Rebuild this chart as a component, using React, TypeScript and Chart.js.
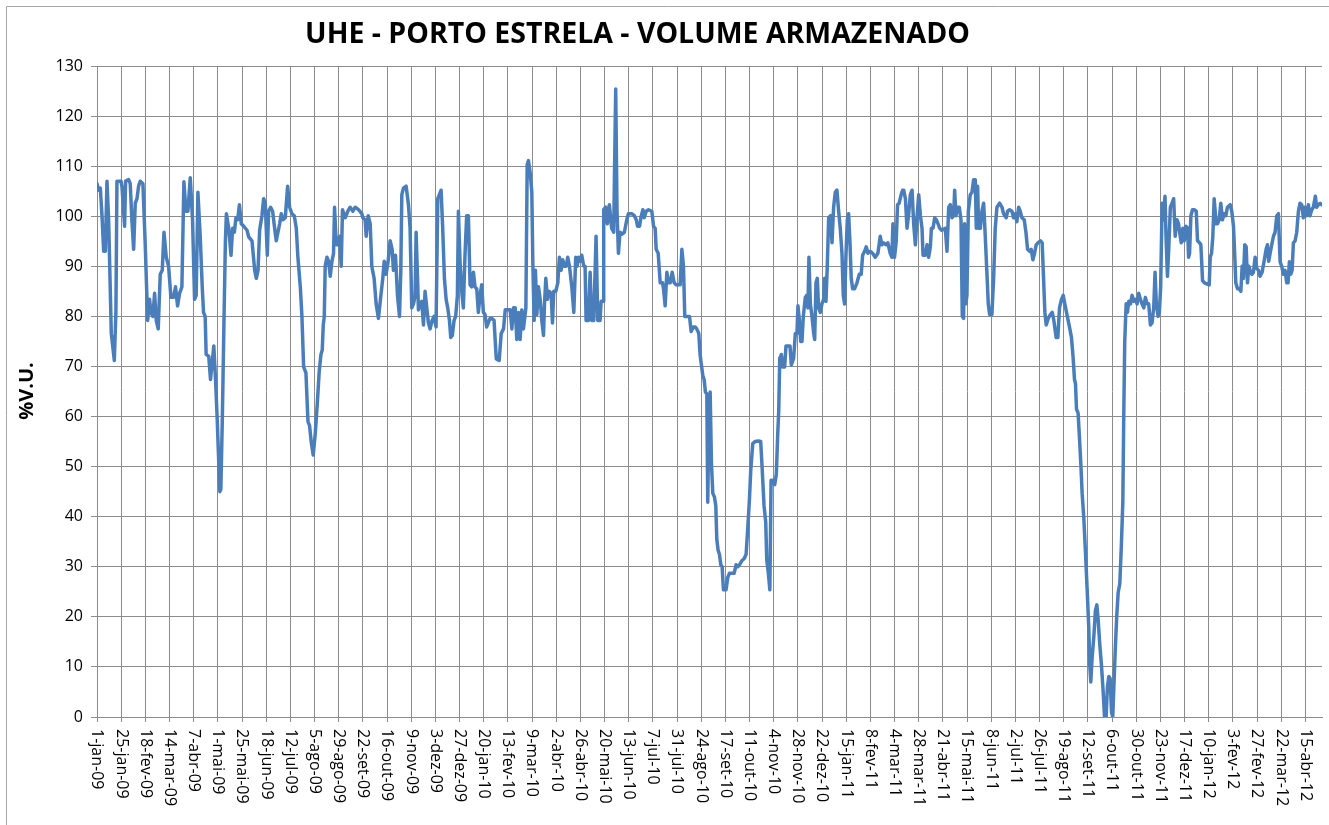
import React, { useEffect, useRef } from 'react';
import { Chart, registerables } from 'chart.js';

Chart.register(...registerables);

// Daily reservoir storage (%V.U.) — day offset counted from 1-jan-09, value
const TITLE = 'UHE - PORTO ESTRELA - VOLUME ARMAZENADO';
const Y_TITLE = '%V.U.';

const X_LABELS = [
  '1-jan-09', '25-jan-09', '18-fev-09', '14-mar-09', '7-abr-09', '1-mai-09', '25-mai-09', '18-jun-09',
  '12-jul-09', '5-ago-09', '29-ago-09', '22-set-09', '16-out-09', '9-nov-09', '3-dez-09', '27-dez-09',
  '20-jan-10', '13-fev-10', '9-mar-10', '2-abr-10', '26-abr-10', '20-mai-10', '13-jun-10', '7-jul-10',
  '31-jul-10', '24-ago-10', '17-set-10', '11-out-10', '4-nov-10', '28-nov-10', '22-dez-10', '15-jan-11',
  '8-fev-11', '4-mar-11', '28-mar-11', '21-abr-11', '15-mai-11', '8-jun-11', '2-jul-11', '26-jul-11',
  '19-ago-11', '12-set-11', '6-out-11', '30-out-11', '23-nov-11', '17-dez-11', '10-jan-12', '3-fev-12',
  '27-fev-12', '22-mar-12', '15-abr-12',
];
const LABEL_STEP_DAYS = 24;
const LAST_DAY = 1216.5;
const Y_TICKS_MIN = 0;
const Y_TICKS_MAX = 130;
const Y_TICKS_STEP = 10;

const vol2009: [number, number][] = [
  [0, 106.5], [1.7, 105.2], [3.3, 105.6], [5, 100], [6.6, 93], [8.3, 93], [9.9, 107], [11.6, 99], [14.2, 76.6],
  [17.2, 71.2], [18.8, 81], [19.8, 107], [23.8, 107], [24.8, 105.9], [27.4, 98], [28.4, 107], [31.4, 107.3],
  [33, 106.5], [34.7, 99], [36.4, 93.4], [38, 102.6], [39.7, 103.5], [41.3, 106], [43, 107], [45.6, 106.5],
  [47.9, 94.3], [50.3, 79.2], [52.2, 83.4], [53.6, 80.8], [55.5, 80], [57.2, 84.6], [58.8, 79.2], [60.8, 77.5],
  [62.8, 88.4], [64.8, 89.2], [66.5, 96.8], [68.8, 91.8], [71.1, 90], [73.4, 83.8], [76, 83.8], [78, 85.9],
  [80, 82.1], [82, 84.6], [84.3, 85.9], [86.3, 106.9], [88.3, 101], [90.3, 101], [92.6, 107.7], [94.9, 99.2],
  [96.9, 83.4], [98.5, 84.2], [100.2, 104.8], [102.5, 96], [104.5, 85.9], [105.8, 80.8], [107.4, 80],
  [108.4, 72.4], [111, 72], [112.7, 67.4], [114.4, 70.8], [116, 74.1], [117.7, 67.4], [119.3, 59.8],
  [120.7, 52], [122, 45], [123, 45.5], [124.5, 60], [126, 78], [127.5, 95], [128.5, 100.5], [130.8, 97.6],
  [133.1, 92.2], [134.7, 97.6], [136.4, 96.8], [138, 99.7], [139.7, 99.3], [141.4, 102.3], [143.3, 98.5],
  [145.7, 98], [149, 97.2], [150.6, 95.9], [153.9, 95.1], [156.6, 89.2], [158.2, 87.6], [159.9, 89.2],
  [161.5, 97.2], [163.8, 100.1], [165.5, 103.5], [167.1, 102.6], [169.1, 92.2], [170.4, 101], [172.4, 101.8],
  [174.4, 101], [176.4, 97.6], [178, 95.1], [179.7, 96.8], [181.4, 98.5], [183, 100.5], [184.7, 99.3],
  [187, 99.7], [189.3, 106], [191.3, 101.8], [193.6, 100.5], [195.9, 100.1], [197.9, 97.6], [199.5, 91.8],
  [201.9, 85.9], [203.5, 80], [205.2, 69.9], [207.5, 68.7], [209.5, 59], [211.1, 58.2], [212.8, 54.8],
  [214.7, 52.3], [216.7, 56.5], [218.7, 62.4], [220.7, 69.1], [222.4, 72.4], [223.7, 73.3], [224.7, 78.3],
  [225.7, 80], [226.6, 90], [228.3, 91.8], [230, 91], [231.6, 88], [233.3, 91], [234.9, 92.6], [235.9, 101.8],
  [237.6, 94.3], [239.2, 94.3], [240.9, 96], [242.5, 90], [243.8, 101.3], [246.5, 99.7], [249.1, 101],
  [251.4, 101.8], [254.1, 101], [256.4, 101.8], [259.7, 101.3], [263, 100.5], [264, 99.7], [266.3, 99.3],
  [267.3, 96], [269.3, 100.1], [271.3, 98.5], [272.9, 90], [275.2, 87.6], [277.2, 82.5], [279.5, 79.6],
  [281.9, 84.2], [283.8, 87.6], [285.2, 91], [287.1, 88.4], [289.1, 91], [291.1, 95.1], [293.1, 93.4],
  [294.4, 89.2], [296.4, 92.2], [298.4, 84.2], [300.4, 80], [301.7, 89.2], [302.7, 104.3], [304.3, 105.6],
  [307, 106], [309.3, 102.3], [310.9, 97.6], [312.6, 81.7], [314.3, 82.5], [315.9, 84.2], [316.9, 96.8],
  [318.2, 88.4], [319.2, 81.3], [320.9, 82.5], [322.5, 83], [324.2, 78.3], [325.8, 85], [327.5, 81.7],
  [329.1, 78.7], [330.8, 77.5], [332.8, 79.2], [334.7, 80], [336.7, 77.9], [338.4, 103.5], [340, 104.3],
  [341.7, 105.2], [343.3, 97.6], [345, 87.6], [346.7, 83.4], [348.3, 81.7], [350, 79.2], [351.3, 75.8],
  [352.9, 76.2], [354.6, 79.2], [356.2, 80], [357.9, 84.2], [358.9, 101], [360.5, 91], [362.2, 85],
  [363.8, 81.7],
];

const vol2010: [number, number][] = [
  [365.5, 92.6], [367.1, 100.1], [368.8, 100.1], [370.5, 86.3], [372.1, 85.9], [373.8, 88.8], [375.4, 85.9],
  [377.1, 85.5], [378.7, 80.8], [380.4, 84.2], [382, 86.3], [383.7, 80.8], [385.3, 80.4], [387, 77.9],
  [388.6, 78.7], [390.3, 79.6], [391.9, 79.6], [394.3, 79.2], [396.5, 71.5], [399.4, 71.2], [401.4, 76.6],
  [403.7, 77.5], [405.4, 81.3], [408, 81.3], [410.3, 81.3], [412, 77.5], [413.6, 81.7], [415.3, 81.7],
  [416.9, 75.4], [418.6, 80.8], [420.2, 75.4], [421.9, 81.3], [423.5, 77.5], [425.9, 81.7], [427.2, 110.3],
  [428.5, 111.1], [430.2, 108.6], [431.8, 104.8], [432.8, 90.8], [434.1, 79.2], [435.4, 89.2], [436.8, 80.4],
  [438.4, 85.9], [440.1, 83.4], [441.7, 79.2], [443.4, 76.2], [444.4, 82.5], [445.7, 87.6], [447.3, 83.4],
  [449, 85], [451, 84.6], [452.3, 78.7], [453.6, 85], [455.6, 85], [457.6, 86.7], [459.2, 91.8], [460.9, 89.2],
  [462.5, 91.3], [464.2, 90], [465.9, 90], [467.5, 91.8], [469.2, 90], [471.5, 85.9], [473.5, 80.8],
  [475.4, 91.8], [476.8, 90], [478.1, 91.8], [479.7, 91], [481.4, 92.2], [483.4, 90], [484.7, 90],
  [485.7, 79.2], [488, 79.2], [489.7, 88.8], [491.3, 79.2], [493.3, 79.2], [495.6, 96], [497.3, 79.2],
  [499.6, 79.2], [500.6, 83], [502.9, 83], [503.2, 101.3], [505.2, 101.8], [506.8, 98.5], [508.8, 102.3],
  [511.1, 97.6], [513.1, 96.8], [515.1, 125.4], [516.4, 101], [517.8, 92.6], [519.4, 96.8], [521.1, 96.4],
  [523.7, 96.8], [526, 99.2], [527.7, 100.5], [531, 100.5], [533.6, 100.1], [535.5, 99.3], [536.8, 98],
  [538.8, 98], [540.1, 99.7], [542.1, 101.3], [543.4, 99.7], [545.4, 101], [547.7, 101.3], [551, 101],
  [552.7, 98], [554.3, 97.6], [555.3, 93.4], [557.3, 92.6], [559.3, 86.7], [561.6, 86.7], [562.6, 85.5],
  [564.2, 82.1], [565.9, 88.8], [567.5, 86.7], [569.2, 86.7], [571.2, 88.8], [573.2, 86.7], [575.1, 86.3],
  [579.1, 86.3], [580.8, 93.4], [582.4, 90], [583.7, 80], [585.7, 80], [588.4, 80], [590, 77], [592.3, 77.9],
  [594, 77.9], [595.6, 77.5], [597.6, 76.6], [598.9, 72.4], [599.9, 70.8], [601.6, 68.2], [602.9, 67.4],
  [604.2, 64.9], [605.6, 64.5], [606.5, 42.9], [607.5, 57.3], [608.9, 64.9], [610.2, 50.6], [611.5, 44.7],
  [613.2, 43.9], [614.5, 42.2], [615.5, 35.5], [616.8, 33.3], [618.1, 32.5], [619.5, 30.4], [620.8, 30],
  [622.1, 25.4], [624.7, 25.4], [626.4, 27.9], [628, 28.7], [632.7, 28.7], [634.7, 30.4], [636.3, 30],
  [638, 30.4], [640.3, 31.2], [642.6, 31.6], [644.6, 32.5], [645.9, 36.6], [647.9, 43.4], [649.2, 49.2],
  [651.2, 54.6], [653.5, 55], [656.8, 55.1], [659.1, 55], [660.5, 49.8], [662.4, 42.2], [664.1, 38.9],
  [665.1, 31.4], [666.7, 28.7], [668.2, 25.4], [669.4, 47.3], [671, 47.3], [673, 46.4], [674.6, 48.5],
  [676, 56.5], [677, 61.1], [678, 71.6], [679.6, 72.4], [681, 69.9], [682.9, 69.9], [684.2, 74.1],
  [688.2, 74.1], [689.5, 70.3], [691.8, 71.6], [693.5, 76.6], [695.1, 76.6], [696.1, 82.1], [697.5, 79.2],
  [698.8, 75], [700.1, 75], [701.4, 80], [703.4, 83.8], [704.7, 84.2], [706, 81.7], [707, 91.8], [708.4, 82.5],
  [710, 80], [711.7, 76.6], [712.7, 75.4], [714, 86.7], [715.3, 87.6], [716.6, 81.7], [718.3, 80.8],
  [719.9, 82.5], [721.6, 83.4], [722.6, 87.6], [723.9, 83], [725.2, 90], [726.6, 99.7], [728.5, 100.1],
  [729.9, 94.7],
];

const vol2011: [number, number][] = [
  [731.5, 101.8], [733.2, 104.8], [734.8, 105.2], [736.5, 101], [738.1, 97.6], [739.8, 92.6], [741.1, 84.2],
  [742.4, 82.5], [743.7, 91.8], [745.1, 99.3], [746.4, 100.5], [747.7, 95], [749, 87.6], [750.4, 85.5],
  [752.3, 85.5], [754.7, 86.7], [757, 88.4], [758.9, 88.4], [760.3, 92.2], [762.3, 93], [763.9, 93.9],
  [765.6, 92.6], [767.9, 93], [770.2, 92.6], [772.8, 91.8], [775.5, 92.6], [777.8, 96], [779.4, 94.3],
  [781.1, 94.7], [783.4, 94.3], [785.4, 94.7], [787.7, 92.6], [789.4, 91.8], [790.4, 98.5], [792, 91.8],
  [793.7, 95.1], [795, 102.3], [796.6, 102.6], [798.6, 104.3], [800, 105.2], [801.1, 105.2], [802.8, 103.5],
  [804.4, 97.6], [806.1, 100.5], [807.7, 104.3], [809.4, 105.2], [811, 98.5], [812.7, 94.3], [814.3, 99.7],
  [816, 104.3], [817.7, 100.1], [819.3, 97.6], [820.3, 92.2], [822.6, 92.2], [824.3, 94.3], [825.9, 91.8],
  [827.6, 93.9], [828.6, 97.6], [830.2, 97.6], [831.9, 99.7], [833.5, 99.3], [835.2, 98.5], [836.8, 97.6],
  [838.8, 97.2], [842.4, 97.6], [844.1, 93], [845.8, 101.8], [847.4, 102.3], [849.1, 99.7], [850.7, 100.1],
  [851.7, 105.2], [853, 100.1], [854.7, 101.8], [856.3, 101.8], [858, 99.3], [859.3, 80], [860.6, 79.6],
  [861.6, 98.5], [862.9, 82.5], [863.9, 84.2], [865.3, 101], [867.2, 104.3], [868.9, 104.8], [870.5, 107.3],
  [872.2, 107.3], [873.2, 97.6], [874.5, 106], [875.5, 97.6], [877.2, 97.6], [878.8, 101], [880.5, 102.6],
  [882.1, 96], [883.8, 88.4], [885.1, 82.5], [886.4, 80.4], [888.7, 80.4], [890.4, 87.6], [892, 97.6],
  [893.7, 101.8], [896.3, 102.6], [898.7, 101.8], [900.3, 100.5], [902.9, 99.7], [904.3, 101], [906.3, 101.3],
  [908.6, 101], [910.2, 99.7], [911.9, 100.5], [913.5, 98.9], [915.2, 101.8], [916.8, 101], [918.5, 99.7],
  [920.8, 99.3], [922.5, 96.8], [924.1, 93.4], [926.1, 93], [927.7, 93.4], [929.4, 91.3], [931, 92.6],
  [932.7, 94.3], [934.4, 94.7], [937, 95.1], [938.6, 94.7], [940, 87.6], [941.3, 80.8], [942.6, 78.3],
  [944.6, 79.6], [946.9, 80.4], [948.6, 80.8], [950.2, 79.2], [952.5, 75.8], [954.2, 75.8], [955.8, 81.7],
  [957.8, 83.4], [959.5, 84.2], [961.1, 82.5], [962.8, 80.8], [964.4, 79.2], [966.1, 77.5], [967.7, 75.8],
  [969.4, 71.6], [970.7, 67.4], [971.7, 66.6], [972.7, 61.5], [974.3, 60.7], [975.7, 55.6], [977, 50.6],
  [978.3, 44.7], [980, 39.6], [981.6, 32.9], [983.3, 25.4], [984.9, 17.8], [985.9, 10.3], [986.9, 7],
  [988.2, 11.8], [989.9, 16], [991.5, 21.3], [992.9, 22.4], [994.2, 19.5], [995.8, 14.5], [997.5, 10.3],
  [999.1, 5.3], [1000.5, 0.1], [1002.1, 0], [1003.4, 6], [1004.8, 8.1], [1006.1, 7.7], [1007.5, 0.9],
  [1008.7, 0], [1010.1, 7.6], [1011.4, 14.5], [1012.7, 20.3], [1014.1, 24.9], [1015.7, 26.6], [1017.3, 34.5],
  [1018.7, 42.9], [1019.6, 59.7], [1020.6, 74.9], [1022, 82.5], [1023.3, 80.8], [1024.6, 83], [1026.3, 82.5],
  [1027.9, 84.2], [1029.6, 83], [1031.2, 83.4], [1032.9, 82.5], [1034.5, 84.6], [1036.2, 83.4], [1037.8, 82.5],
  [1039.5, 81.7], [1041.1, 83.8], [1042.8, 82.5], [1044.4, 82.5], [1046.1, 78.3], [1047.7, 78.7],
  [1049.4, 81.7], [1050.7, 88.8], [1052, 82.5], [1053.7, 80], [1055, 80.8], [1056.3, 85.9], [1057.7, 102.6],
  [1059, 99.3], [1060.6, 104], [1061.6, 96], [1063, 88], [1064.3, 93.4], [1065.9, 101.8], [1067.6, 102.6],
  [1069.2, 103.5], [1070.7, 96], [1072.4, 99.3], [1074, 98.5], [1075.7, 96], [1076.7, 94.7], [1078.3, 97.6],
  [1079.7, 95.1], [1081.3, 98], [1083, 97.6], [1084, 91.8], [1085, 92.6], [1086.3, 100.1], [1087.9, 101.3],
  [1089.6, 101.3], [1091.6, 101], [1092.9, 95.1], [1094.9, 94.7],
];

const vol2012: [number, number][] = [
  [1096.2, 94.3], [1097.9, 87.1], [1099.8, 86.7], [1104.5, 86.3], [1105.5, 91.8], [1106.8, 92.6],
  [1108.1, 96], [1109.4, 103.5], [1111.4, 98.5], [1112.7, 98.5], [1114.4, 99.3], [1116, 102.6],
  [1117.7, 99.3], [1119.3, 100.5], [1121, 100.1], [1122.6, 101.8], [1125.3, 102.3], [1126.9, 101],
  [1128.6, 98], [1129.6, 93.4], [1130.9, 86.7], [1132.6, 85.5], [1134.2, 85.5], [1135.9, 85], [1137.2, 90],
  [1138.5, 87.6], [1139.8, 94.3], [1141.2, 93.9], [1142.5, 86.7], [1143.8, 90], [1145.1, 89.2], [1146.8, 88.4],
  [1148.4, 88.8], [1150.1, 91.8], [1151.7, 89.6], [1153.4, 89.2], [1155, 88], [1157, 88.8], [1159, 91],
  [1161, 93.4], [1162.3, 94.3], [1163.6, 91], [1165, 92.6], [1166.6, 94.3], [1168.3, 96], [1169.9, 96.8],
  [1171.6, 100.1], [1173.2, 100.5], [1174.9, 90.9], [1176.5, 90], [1178.2, 88.4], [1179.8, 89.2],
  [1181.5, 86.7], [1182.8, 86.7], [1184.1, 90.9], [1185.5, 88.4], [1186.8, 89.2], [1188.1, 94.7],
  [1189.8, 95.1], [1191.4, 96.8], [1193.1, 101], [1194.7, 102.6], [1196.4, 102.3], [1198, 99.7],
  [1199.7, 101.8], [1201.3, 100.1], [1203, 102.3], [1204.6, 100.1], [1206.3, 101.3], [1207.9, 101.8],
  [1209.9, 104], [1211.2, 101.8], [1212.9, 102.3], [1214.6, 102.6], [1216.2, 102.3],
];

const FONT = "'Open Sans', 'DejaVu Sans', sans-serif";
const GRID = '#8c8c8c';

export default function App() {
  const ref = useRef<HTMLCanvasElement>(null);

  useEffect(() => {
    const canvas = ref.current;
    if (!canvas) return;
    const points = [...vol2009, ...vol2010, ...vol2011, ...vol2012].map(([x, y]) => ({ x, y }));

    const overlay = {
      id: 'overlay',
      afterDraw(chart: any) {
        const ctx = chart.ctx as CanvasRenderingContext2D;
        ctx.save();
        // chart area frame
        ctx.strokeStyle = '#a6a6a6';
        ctx.lineWidth = 1;
        ctx.beginPath();
        ctx.moveTo(6.5, 825);
        ctx.lineTo(6.5, 6.5);
        ctx.lineTo(1329, 6.5);
        ctx.stroke();

        ctx.fillStyle = '#000';
        // title, fitted to width
        ctx.font = `bold 100px ${FONT}`;
        const w = ctx.measureText(TITLE).width;
        const size = (100 * 665) / w;
        ctx.font = `bold ${size.toFixed(2)}px ${FONT}`;
        ctx.textAlign = 'center';
        ctx.textBaseline = 'middle';
        ctx.fillText(TITLE, 637.5, 35);

        // y axis title
        ctx.save();
        ctx.translate(27, 391);
        ctx.rotate(-Math.PI / 2);
        ctx.font = `bold 20px ${FONT}`;
        ctx.textAlign = 'center';
        ctx.textBaseline = 'middle';
        ctx.fillText(Y_TITLE, 0, 0);
        ctx.restore();

        // x labels, rotated clockwise
        const xs = chart.scales.x;
        const top = chart.chartArea.bottom + 12;
        ctx.font = `16px ${FONT}`;
        ctx.textAlign = 'left';
        ctx.textBaseline = 'middle';
        X_LABELS.forEach((lab, i) => {
          const px = xs.getPixelForValue(i * LABEL_STEP_DAYS);
          ctx.save();
          ctx.translate(px, top);
          ctx.rotate(Math.PI / 2);
          ctx.fillText(lab, 0, 0);
          ctx.restore();
        });
        ctx.restore();
      },
    };

    const chart = new Chart(canvas, {
      type: 'line',
      data: {
        datasets: [
          {
            data: points,
            borderColor: '#4a7ebb',
            borderWidth: 3.5,
            pointRadius: 0,
            tension: 0,
            fill: false,
            borderJoinStyle: 'round',
            borderCapStyle: 'round',
          },
        ],
      },
      options: {
        animation: false,
        responsive: false,
        devicePixelRatio: 1,
        parsing: false as any,
        layout: { padding: { top: 66, right: 7, bottom: 0, left: 0 } },
        plugins: {
          legend: { display: false },
          title: { display: false },
          tooltip: { enabled: false },
        },
        scales: {
          x: {
            type: 'linear',
            min: 0,
            max: LAST_DAY,
            afterBuildTicks: (s: any) => {
              s.ticks = X_LABELS.map((_, i) => ({ value: i * LABEL_STEP_DAYS }));
            },
            afterFit: (s: any) => {
              s.height = 108;
            },
            ticks: { display: false },
            grid: { color: GRID, tickLength: 5, drawTicks: true, lineWidth: 1 },
            border: { color: GRID },
          },
          y: {
            min: Y_TICKS_MIN,
            max: Y_TICKS_MAX,
            ticks: {
              stepSize: Y_TICKS_STEP,
              color: '#000',
              padding: 8,
              font: { family: FONT, size: 16 },
            },
            afterFit: (s: any) => {
              s.width = 97;
            },
            grid: { color: GRID, tickLength: 6, lineWidth: 1 },
            border: { color: GRID },
          },
        },
      },
      plugins: [overlay],
    } as any);

    return () => chart.destroy();
  }, []);

  return (
    <div style={{ position: 'absolute', left: 0, top: 0, width: 1329, height: 825, background: '#fff' }}>
      <canvas ref={ref} width={1329} height={825} style={{ display: 'block', width: 1329, height: 825 }} />
    </div>
  );
}
